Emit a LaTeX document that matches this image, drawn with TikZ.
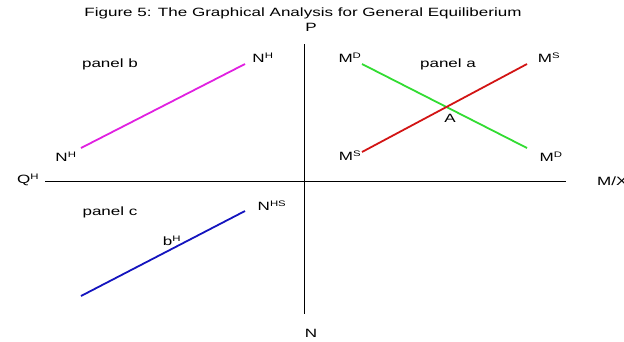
\documentclass[tikz,border=0pt]{standalone}
\usepackage{fontspec}
\setmainfont[FakeStretch=1.42]{Liberation Sans}
\begin{document}
\begin{tikzpicture}[x=1pt,y=-1pt,
  lbl/.style={inner sep=0pt,font=\fontsize{12}{14}\selectfont},
  ax/.style={line width=1pt,black},
  curve/.style={line width=1.8pt}]
\useasboundingbox (0,0) rectangle (624,341);
\node[lbl] (title) at (303,13) {Figure 5: The Graphical Analysis for General Equiliberium};
% axes
\coordinate (xl) at (45,181); \coordinate (xr) at (566,181);
\coordinate (yt) at (304,44); \coordinate (yb) at (304,314);
\draw[ax] (xl) -- (xr);
\draw[ax] (yt) -- (yb);
\node[lbl] (P) at (311,27) {P};
\node[lbl] (N) at (311,333) {N};
\node[lbl] (QH) at (28,180) {Q\textsuperscript{H}};
\node[lbl,anchor=west] (MX) at (597,181) {M/X};
% panel b
\coordinate (b1) at (81,148); \coordinate (b2) at (245,64);
\draw[curve,color={rgb,255:red,224;green,32;blue,224}] (b1) -- (b2);
\node[lbl] (nh1) at (263,58) {N\textsuperscript{H}};
\node[lbl] (nh2) at (66,157) {N\textsuperscript{H}};
\node[lbl] (pb) at (110,64) {panel b};
% panel c
\coordinate (c1) at (81,296); \coordinate (c2) at (245,211);
\draw[curve,color={rgb,255:red,20;green,20;blue,190}] (c1) -- (c2);
\node[lbl] (nhs) at (272,206) {N\textsuperscript{HS}};
\node[lbl] (bh) at (172,241) {b\textsuperscript{H}};
\node[lbl] (pc) at (110,212) {panel c};
% panel a
\coordinate (g1) at (362,64); \coordinate (g2) at (527,148);
\coordinate (r1) at (362,152); \coordinate (r2) at (527,64);
\draw[curve,color={rgb,255:red,50;green,220;blue,50}] (g1) -- (g2);
\draw[curve,color={rgb,255:red,210;green,20;blue,20}] (r1) -- (r2);
\node[lbl] (md1) at (350,58) {M\textsuperscript{D}};
\node[lbl] (ms1) at (549,58) {M\textsuperscript{S}};
\node[lbl] (ms2) at (350,156) {M\textsuperscript{S}};
\node[lbl] (md2) at (551,157) {M\textsuperscript{D}};
\node[lbl] (A) at (450,118) {A};
\node[lbl] (pa) at (448,64) {panel a};
\end{tikzpicture}
\end{document}
